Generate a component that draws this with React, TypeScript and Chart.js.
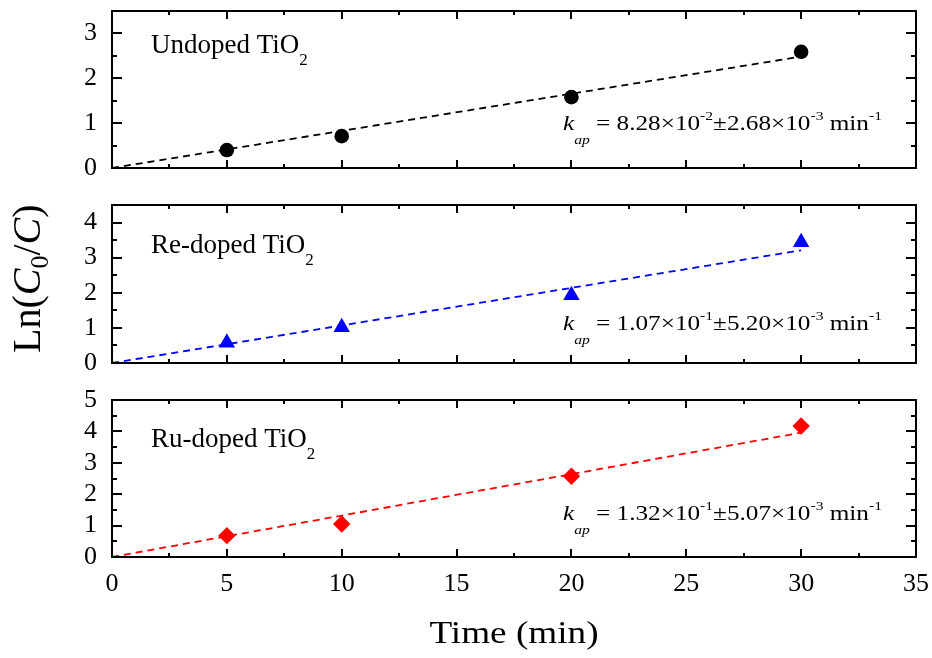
import React, { useEffect, useRef } from "react";
import { Chart, registerables } from "chart.js";

Chart.register(...registerables);

// ---------------- data ----------------
const timePoints = [5, 10, 20, 30];
const undopedValues = [0.4, 0.71, 1.58, 2.59];
const reDopedValues = [0.58, 1.02, 1.93, 3.44];
const ruDopedValues = [0.68, 1.05, 2.57, 4.17];

const fitTimes = [0, 30];
const undopedFit = [0, 2.484];
const reDopedFit = [0, 3.21];
const ruDopedFit = [0, 3.96];

const xMin = 0;
const xMax = 35;
const xStep = 5;
const xTickValues = [0, 5, 10, 15, 20, 25, 30, 35];
const panelYMax = [3.5, 4.5, 5];
const undopedYTicks = [0, 1, 2, 3];
const reDopedYTicks = [0, 1, 2, 3, 4];
const ruDopedYTicks = [0, 1, 2, 3, 4, 5];

const panelNames = ["Undoped", "Re-doped", "Ru-doped"];
const kMantissa = ["8.28", "1.07", "1.32"];
const kExponent = ["-2", "-1", "-1"];
const errMantissa = ["2.68", "5.20", "5.07"];
const errExponent = ["-3", "-3", "-3"];

const xTitle = "Time (min)";

// ---------------- styles / layout ----------------
const W = 932;
const H = 658;
const PLOT_LEFT = 112;
const PLOT_RIGHT = 916;
const Y_AXIS_W = 50;
const X_AXIS_H = 40;
const SERIF = '"Liberation Serif", "Times New Roman", serif';

const panelStyles = [
  { top: 11, bottom: 168, color: "#000000", pointStyle: "circle", radius: 7.3, labelDy: 42, kDy: -38 },
  { top: 205, bottom: 363, color: "#0000FF", pointStyle: "triangle", radius: 9.5, labelDy: 48, kDy: -33 },
  { top: 400, bottom: 557, color: "#FF0000", pointStyle: "rectRot", radius: 8.7, labelDy: 47, kDy: -37 },
];

const seriesValues = [undopedValues, reDopedValues, ruDopedValues];
const seriesFits = [undopedFit, reDopedFit, ruDopedFit];
const seriesYTicks = [undopedYTicks, reDopedYTicks, ruDopedYTicks];

type Seg = { t: string; font: string; dy?: number };

function drawRich(
  ctx: CanvasRenderingContext2D,
  x: number,
  y: number,
  segs: Seg[],
  sx = 1,
  rotate = 0
) {
  ctx.save();
  ctx.translate(x, y);
  if (rotate) ctx.rotate(rotate);
  ctx.scale(sx, 1);
  ctx.textBaseline = "alphabetic";
  ctx.textAlign = "left";
  ctx.fillStyle = "#000";
  let cx = 0;
  for (const s of segs) {
    ctx.font = s.font;
    ctx.fillText(s.t, cx, s.dy || 0);
    cx += ctx.measureText(s.t).width;
  }
  ctx.restore();
}

function makeFramePlugin(i: number) {
  return {
    id: "frame" + i,
    afterDraw(chart: any) {
      const ctx: CanvasRenderingContext2D = chart.ctx;
      const a = chart.chartArea;
      const xs = chart.scales.x;
      const ys = chart.scales.y;
      const st = panelStyles[i];
      ctx.save();
      ctx.strokeStyle = "#000";
      ctx.lineWidth = 2;
      ctx.strokeRect(a.left, a.top, a.right - a.left, a.bottom - a.top);
      ctx.beginPath();
      for (let v = xMin; v <= xMax + 1e-9; v += xStep / 2) {
        const px = Math.round(xs.getPixelForValue(v));
        const len = Math.abs(v % xStep) < 1e-9 ? 8 : 4;
        ctx.moveTo(px, a.bottom);
        ctx.lineTo(px, a.bottom - len);
        ctx.moveTo(px, a.top);
        ctx.lineTo(px, a.top + len);
      }
      for (let v = 0; v <= panelYMax[i] + 1e-9; v += 0.5) {
        const py = Math.round(ys.getPixelForValue(v));
        const len = Math.abs(v % 1) < 1e-9 ? 10 : 5;
        ctx.moveTo(a.left, py);
        ctx.lineTo(a.left + len, py);
        ctx.moveTo(a.right, py);
        ctx.lineTo(a.right - len, py);
      }
      ctx.stroke();
      ctx.restore();

      // panel label
      drawRich(ctx, a.left + 39, a.top + st.labelDy, [
        { t: panelNames[i] + " TiO", font: `27px ${SERIF}` },
        { t: "2", font: `17px ${SERIF}`, dy: 12 },
      ]);

      // rate constant
      const big = `21px ${SERIF}`;
      const small = `13px ${SERIF}`;
      drawRich(
        ctx,
        a.left + 451,
        a.bottom + st.kDy,
        [
          { t: "k", font: `italic ${big}` },
          { t: "ap", font: `italic 13px ${SERIF}`, dy: 14 },
          { t: " = " + kMantissa[i] + "\u00D710", font: big },
          { t: kExponent[i], font: small, dy: -10 },
          { t: "\u00B1" + errMantissa[i] + "\u00D710", font: big },
          { t: errExponent[i], font: small, dy: -10 },
          { t: " min", font: big },
          { t: "-1", font: small, dy: -10 },
        ],
        1.2
      );

      if (i === 2) {
        // x axis title
        const xc = (a.left + a.right) / 2;
        ctx.save();
        ctx.font = `31px ${SERIF}`;
        const w = ctx.measureText(xTitle).width * 1.2;
        ctx.restore();
        drawRich(ctx, xc - w / 2, a.bottom + 86, [{ t: xTitle, font: `31px ${SERIF}` }], 1.2);
      }
      if (i === 1) {
        // y axis title, rotated
        const f = `40px ${SERIF}`;
        drawRich(
          ctx,
          40,
          353,
          [
            { t: "Ln(", font: f },
            { t: "C", font: `italic ${f}` },
            { t: "0", font: `26px ${SERIF}`, dy: 8 },
            { t: "/", font: f },
            { t: "C", font: `italic ${f}` },
            { t: ")", font: f },
          ],
          1,
          -Math.PI / 2
        );
      }
    },
  };
}

function Panel({ i }: { i: number }) {
  const ref = useRef<HTMLCanvasElement | null>(null);
  useEffect(() => {
    const canvas = ref.current;
    if (!canvas) return;
    const st = panelStyles[i];
    const isBottom = i === 2;
    const tickFont = { family: SERIF, size: 26 };
    const chart = new Chart(canvas, {
      type: "scatter",
      data: {
        datasets: [
          {
            type: "line",
            data: fitTimes.map((x, j) => ({ x, y: seriesFits[i][j] })),
            borderColor: st.color,
            borderWidth: 1.8,
            borderDash: [7, 5],
            pointRadius: 0,
            fill: false,
            tension: 0,
            order: 2,
          } as any,
          {
            type: "scatter",
            data: timePoints.map((x, j) => ({ x, y: seriesValues[i][j] })),
            pointStyle: st.pointStyle as any,
            pointRadius: st.radius,
            backgroundColor: st.color,
            borderColor: st.color,
            borderWidth: 0,
            order: 1,
          } as any,
        ],
      },
      options: {
        animation: false,
        responsive: false,
        events: [],
        layout: {
          padding: {
            left: PLOT_LEFT - Y_AXIS_W,
            right: W - PLOT_RIGHT,
            top: st.top,
            bottom: isBottom ? H - st.bottom - X_AXIS_H : H - st.bottom,
          },
        },
        plugins: { legend: { display: false }, tooltip: { enabled: false } },
        scales: {
          x: {
            type: "linear",
            min: xMin,
            max: xMax,
            display: isBottom,
            grid: { display: false, drawTicks: false },
            border: { display: false },
            ticks: {
              font: tickFont,
              color: "#000",
              padding: 12,
              maxRotation: 0,
              minRotation: 0,
              autoSkip: false,
            },
            afterBuildTicks: (s: any) => {
              s.ticks = xTickValues.map((v) => ({ value: v }));
            },
            afterFit: (s: any) => {
              if (isBottom) s.height = X_AXIS_H;
              s.paddingLeft = 0;
              s.paddingRight = 0;
            },
          },
          y: {
            type: "linear",
            min: 0,
            max: panelYMax[i],
            grid: { display: false, drawTicks: false },
            border: { display: false },
            ticks: { font: tickFont, color: "#000", padding: 15, autoSkip: false },
            afterBuildTicks: (s: any) => {
              s.ticks = seriesYTicks[i].map((v) => ({ value: v }));
            },
            afterFit: (s: any) => {
              s.width = Y_AXIS_W;
              s.paddingTop = 0;
              s.paddingBottom = 0;
            },
          },
        },
      } as any,
      plugins: [makeFramePlugin(i)],
    });
    return () => chart.destroy();
  }, [i]);
  return (
    <canvas
      ref={ref}
      width={W}
      height={H}
      style={{ position: "absolute", left: 0, top: 0, width: W, height: H }}
    />
  );
}

export default function App() {
  return (
    <div style={{ position: "fixed", left: 0, top: 0, width: W, height: H, background: "#fff" }}>
      <Panel i={0} />
      <Panel i={1} />
      <Panel i={2} />
    </div>
  );
}
